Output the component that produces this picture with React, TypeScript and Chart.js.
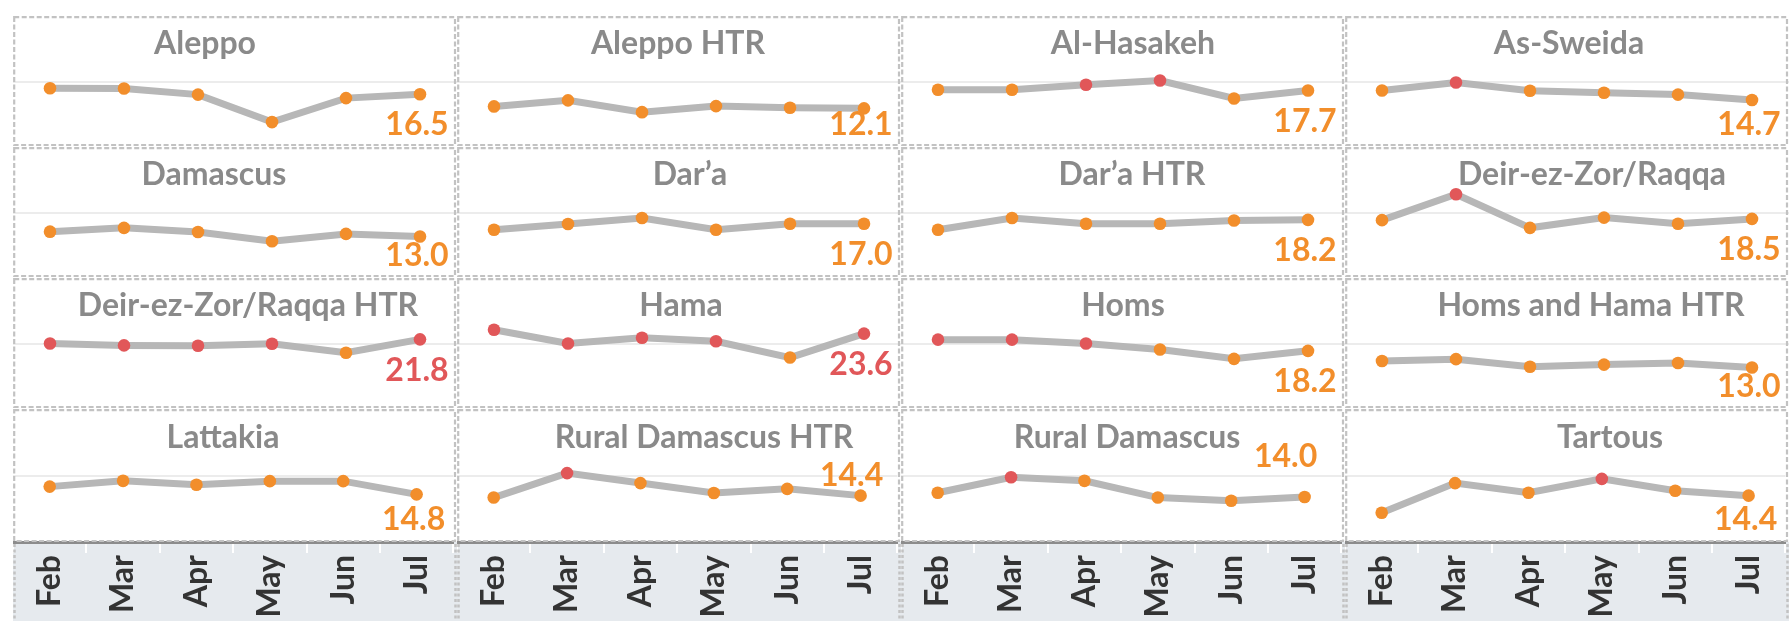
import React, { useEffect, useRef } from "react";
import { Chart, registerables } from "chart.js";

Chart.register(...registerables);

// ---------- data ----------
const MONTHS = ["Feb", "Mar", "Apr", "May", "Jun", "Jul"];

const REGIONS = [
  "Aleppo", "Aleppo HTR", "Al-Hasakeh", "As-Sweida",
  "Damascus", "Dar’a", "Dar’a HTR", "Deir-ez-Zor/Raqqa",
  "Deir-ez-Zor/Raqqa HTR", "Hama", "Homs", "Homs and Hama HTR",
  "Lattakia", "Rural Damascus HTR", "Rural Damascus", "Tartous",
];

const ALEPPO = [18.4, 18.3, 16.4, 7.8, 15.3, 16.5];
const ALEPPO_HTR = [12.7, 14.6, 10.9, 12.8, 12.3, 12.1];
const AL_HASAKEH = [17.9, 17.9, 19.5, 20.8, 15.2, 17.7];
const AS_SWEIDA = [17.7, 20.2, 17.6, 17.0, 16.4, 14.7];
const DAMASCUS = [14.5, 15.7, 14.4, 11.5, 13.8, 13.0];
const DARA = [15.1, 16.9, 18.8, 15.1, 17.0, 17.0];
const DARA_HTR = [15.1, 18.8, 17.0, 17.0, 18.0, 18.2];
const DEIR = [18.1, 26.2, 15.7, 18.9, 17.0, 18.5];
const DEIR_HTR = [20.5, 19.9, 19.8, 20.4, 17.6, 21.8];
const HAMA = [24.8, 20.5, 22.3, 21.2, 16.1, 23.6];
const HOMS = [21.7, 21.7, 20.5, 18.6, 15.7, 18.2];
const HOMS_HAMA_HTR = [15.0, 15.6, 13.2, 13.9, 14.4, 13.0];
const LATTAKIA = [17.2, 19.0, 17.8, 18.9, 18.9, 14.8];
const RURAL_DAMASCUS_HTR = [13.8, 21.4, 18.3, 15.2, 16.5, 14.4];
const RURAL_DAMASCUS = [15.3, 20.1, 19.0, 13.8, 12.8, 14.0];
const TARTOUS = [9.1, 18.3, 15.3, 19.6, 15.9, 14.4];

const SERIES = [
  ALEPPO, ALEPPO_HTR, AL_HASAKEH, AS_SWEIDA,
  DAMASCUS, DARA, DARA_HTR, DEIR,
  DEIR_HTR, HAMA, HOMS, HOMS_HAMA_HTR,
  LATTAKIA, RURAL_DAMASCUS_HTR, RURAL_DAMASCUS, TARTOUS,
];

const THRESHOLD = 19.25;
const Y_MIN = 0;
const Y_MAX = 41;
const MID_LINE = 20.5;

// ---------- layout / style ----------
const COLS = 4;
const COL_X0 = 13.3;
const COL_W = 444;
const ROW_Y0 = 16;
const ROW_H = 131;
const PAGE_H = 621;
const AXIS_H = 79;

const ORANGE = "#F28E2B";
const RED = "#E15759";
const LINE_GRAY = "#b7b7b7";
const BORDER_GRAY = "#c2c2c2";
const FONT = "Lato, 'Open Sans', sans-serif";

// title horizontal nudges (px from panel centre), as in the reference layout
const TITLE_DX = [-30, -1, 10, 2, -21, 11, 9, 25, 13, 2, 0, 24, -12, 25, 4, 43];
// end-label placement [dx, dy] relative to last point (special cases)
const LABEL_SHIFT: Record<number, [number, number]> = { 13: [-9, -19.5], 14: [-19, -40] };
const LABEL_DX = -3;
const LABEL_DY = 31;
const LABEL_BOTTOM_GAP = 22;

function Panel({ index }: { index: number }) {
  const ref = useRef<HTMLCanvasElement | null>(null);
  const row = Math.floor(index / COLS);
  const col = index % COLS;
  const isBottom = row === 3;
  const left = Math.round(COL_X0 + col * COL_W);
  const top = ROW_Y0 + row * ROW_H;
  const width = COL_W;
  const height = isBottom ? PAGE_H - top : ROW_H;

  useEffect(() => {
    const canvas = ref.current;
    if (!canvas) return;
    const values = SERIES[index];
    const title = REGIONS[index];

    const panelPlugin = {
      id: "panelDeco" + index,
      beforeDraw(chart: any) {
        const { ctx, chartArea } = chart;
        if (isBottom) {
          ctx.save();
          ctx.fillStyle = "#e6eaee";
          ctx.fillRect(0, chartArea.bottom, chart.width, chart.height - chartArea.bottom);
          ctx.restore();
        }
      },
      beforeDatasetsDraw(chart: any) {
        const { ctx, chartArea } = chart;
        ctx.save();
        // dashed panel border
        ctx.strokeStyle = BORDER_GRAY;
        ctx.lineWidth = 2.2;
        ctx.setLineDash([5, 2.5]);
        const bTop = 1.2;
        const bBottom = isBottom ? chartArea.bottom - 1 : chart.height - 2;
        ctx.strokeRect(1.2, bTop, chart.width - 3.2, bBottom - bTop);
        // title
        ctx.setLineDash([]);
        ctx.fillStyle = "#8a8a8a";
        ctx.font = `bold 32px ${FONT}`;
        ctx.textAlign = "center";
        ctx.textBaseline = "alphabetic";
        ctx.fillText(title, chart.width / 2 + TITLE_DX[index], chartArea.top + 38);
        ctx.restore();
      },
      afterDatasetsDraw(chart: any) {
        const { ctx, chartArea } = chart;
        const meta = chart.getDatasetMeta(0);
        const last = meta.data[meta.data.length - 1];
        const v = values[values.length - 1];
        let lx: number;
        let ly: number;
        const special = LABEL_SHIFT[index];
        if (special) {
          lx = last.x + special[0];
          ly = last.y + special[1];
        } else {
          lx = last.x + LABEL_DX;
          ly = Math.min(last.y + LABEL_DY, chartArea.bottom - LABEL_BOTTOM_GAP);
        }
        ctx.save();
        ctx.fillStyle = v > THRESHOLD ? RED : ORANGE;
        ctx.font = `bold 32px ${FONT}`;
        ctx.textAlign = "center";
        ctx.textBaseline = "middle";
        ctx.fillText(v.toFixed(1), lx, ly);
        ctx.restore();
      },
      afterDraw(chart: any) {
        if (!isBottom) return;
        const { ctx, chartArea } = chart;
        ctx.save();
        ctx.strokeStyle = BORDER_GRAY;
        ctx.lineWidth = 2.5;
        ctx.setLineDash([3, 2.5]);
        ctx.beginPath();
        ctx.moveTo(1.5, chartArea.bottom + 2);
        ctx.lineTo(1.5, chart.height);
        ctx.moveTo(chart.width - 1.5, chartArea.bottom + 2);
        ctx.lineTo(chart.width - 1.5, chart.height);
        ctx.stroke();
        ctx.restore();
      },
    };

    const chart = new Chart(canvas, {
      type: "line",
      data: {
        labels: MONTHS,
        datasets: [
          {
            data: values,
            borderColor: LINE_GRAY,
            borderWidth: 7,
            tension: 0,
            pointRadius: 6.3,
            pointBorderWidth: 0,
            pointBackgroundColor: (c: any) => (c.raw > THRESHOLD ? RED : ORANGE),
            clip: false as any,
          },
        ],
      },
      options: {
        responsive: false,
        animation: false,
        events: [],
        layout: { padding: { top: isBottom ? 1 : 0, left: 0, right: 0, bottom: 0 }, autoPadding: false } as any,
        plugins: { legend: { display: false }, tooltip: { enabled: false }, title: { display: false } },
        scales: {
          x: {
            type: "category",
            offset: true,
            display: isBottom,
            grid: {
              offset: true,
              drawOnChartArea: false,
              drawTicks: true,
              tickLength: 11,
              color: "#ffffff",
              lineWidth: 2,
            },
            border: { display: true, color: "#8c8c8c", width: 3 },
            ticks: {
              autoSkip: false,
              minRotation: 90,
              maxRotation: 90,
              padding: 2,
              color: "#333333",
              font: { family: FONT, size: 32, weight: "bold" },
            },
            afterFit: (s: any) => {
              if (isBottom) s.height = AXIS_H;
            },
          },
          y: {
            min: Y_MIN,
            max: Y_MAX,
            display: true,
            ticks: { display: false },
            grid: { drawTicks: false, color: "#ececec", lineWidth: 2 },
            border: { display: false },
            afterBuildTicks: (s: any) => {
              s.ticks = [{ value: MID_LINE }];
            },
          },
        },
      } as any,
      plugins: [panelPlugin],
    });
    return () => chart.destroy();
  }, [index]);

  return (
    <canvas
      ref={ref}
      width={width}
      height={height}
      style={{ position: "absolute", left, top, width, height }}
    />
  );
}

export default function App() {
  return (
    <div
      style={{
        position: "absolute",
        left: 0,
        top: 0,
        width: 1791,
        height: 621,
        background: "#ffffff",
        overflow: "hidden",
      }}
    >
      {REGIONS.map((_, i) => (
        <Panel key={i} index={i} />
      ))}
    </div>
  );
}
